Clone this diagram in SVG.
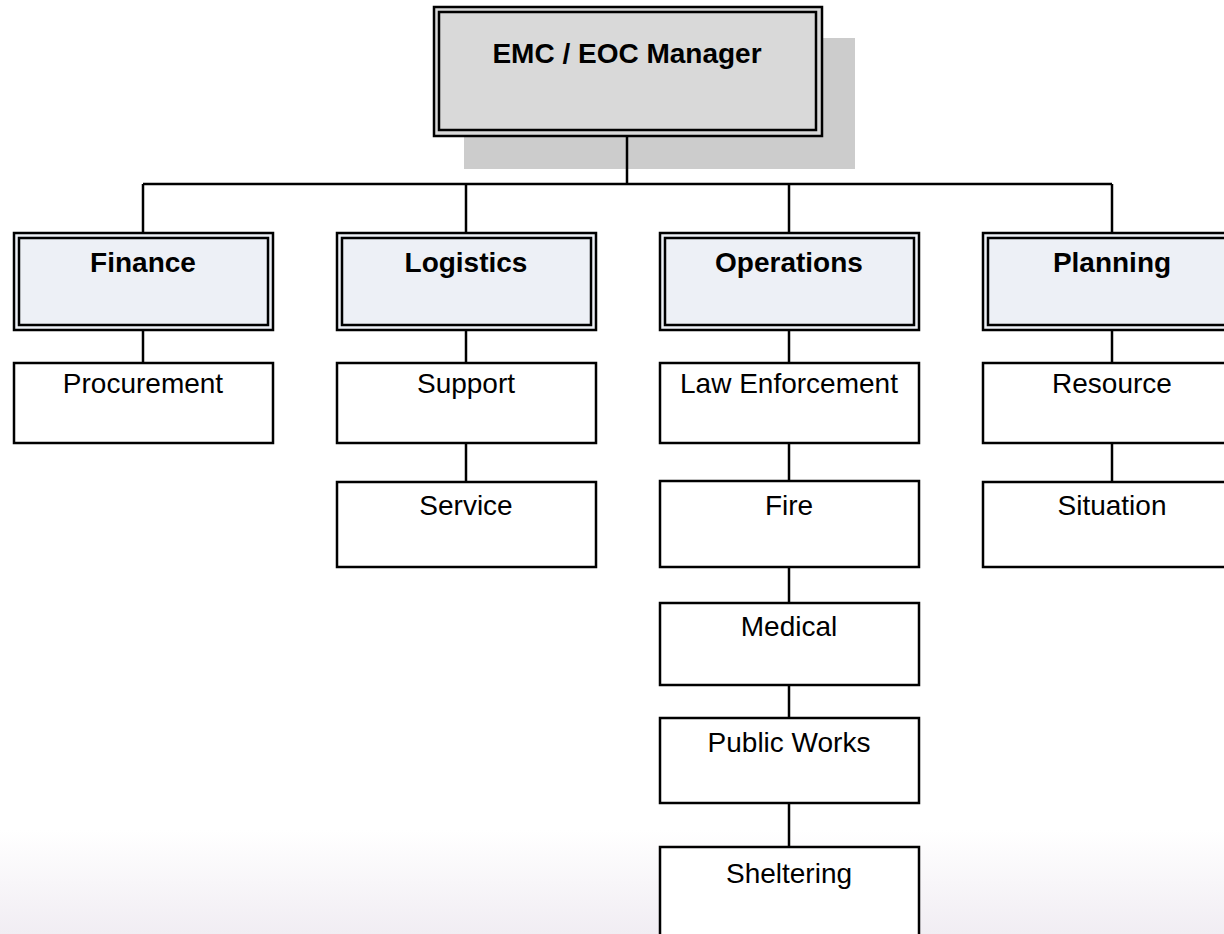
<svg xmlns="http://www.w3.org/2000/svg" width="1224" height="934" viewBox="0 0 1224 934">
<style>
.t{font-family:"Liberation Sans",Arial,sans-serif;font-size:28px;fill:#000;text-anchor:middle}
.b{font-weight:bold}
.box{fill:#fff;stroke:#000;stroke-width:2.5}
.hd{fill:#edf0f6;stroke:#000;stroke-width:2.5}
.hdi{fill:none;stroke:#000;stroke-width:2.5}
.con line{stroke:#000;stroke-width:2.5}
</style>
<defs>
<linearGradient id="bg" x1="0" y1="0" x2="0" y2="1">
<stop offset="0" stop-color="#ffffff"/>
<stop offset="1" stop-color="#f1edf3"/>
</linearGradient>
</defs>
<rect x="0" y="0" width="1224" height="934" fill="#fff"/>
<rect x="0" y="830" width="1224" height="104" fill="url(#bg)"/>
<rect x="464" y="38" width="391" height="131" fill="#cccccc"/>
<g class="con">
<line x1="627" y1="136" x2="627" y2="184"/>
<line x1="143" y1="184" x2="1112" y2="184"/>
<line x1="143" y1="184" x2="143" y2="232"/>
<line x1="466" y1="184" x2="466" y2="232"/>
<line x1="789" y1="184" x2="789" y2="232"/>
<line x1="1112" y1="184" x2="1112" y2="232"/>
<line x1="143" y1="330" x2="143" y2="362"/>
<line x1="466" y1="330" x2="466" y2="362"/>
<line x1="466" y1="443" x2="466" y2="481"/>
<line x1="789" y1="330" x2="789" y2="362"/>
<line x1="789" y1="443" x2="789" y2="481"/>
<line x1="789" y1="567" x2="789" y2="603"/>
<line x1="789" y1="685" x2="789" y2="717"/>
<line x1="789" y1="803" x2="789" y2="846"/>
<line x1="1112" y1="330" x2="1112" y2="362"/>
<line x1="1112" y1="443" x2="1112" y2="481"/>
</g>
<g id="manager">
<rect x="434" y="7" width="388" height="129" fill="#d9d9d9" stroke="#000" stroke-width="2.5"/>
<rect x="439" y="12" width="377" height="118" fill="none" stroke="#000" stroke-width="2.5"/>
<text class="t b" x="627" y="63">EMC / EOC Manager</text>
</g>
<g id="finance">
<rect class="hd" x="14" y="233" width="259" height="97"/>
<rect class="hdi" x="19" y="238" width="249" height="87"/>
<text class="t b" x="143" y="272">Finance</text>
</g>
<g id="logistics">
<rect class="hd" x="337" y="233" width="259" height="97"/>
<rect class="hdi" x="342" y="238" width="249" height="87"/>
<text class="t b" x="466" y="272">Logistics</text>
</g>
<g id="operations">
<rect class="hd" x="660" y="233" width="259" height="97"/>
<rect class="hdi" x="665" y="238" width="249" height="87"/>
<text class="t b" x="789" y="272">Operations</text>
</g>
<g id="planning">
<rect class="hd" x="983" y="233" width="259" height="97"/>
<rect class="hdi" x="988" y="238" width="249" height="87"/>
<text class="t b" x="1112" y="272">Planning</text>
</g>
<g id="procurement">
<rect class="box" x="14" y="363" width="259" height="80"/>
<text class="t" x="143" y="393">Procurement</text>
</g>
<g id="support">
<rect class="box" x="337" y="363" width="259" height="80"/>
<text class="t" x="466" y="393">Support</text>
</g>
<g id="service">
<rect class="box" x="337" y="482" width="259" height="85"/>
<text class="t" x="466" y="515">Service</text>
</g>
<g id="law">
<rect class="box" x="660" y="363" width="259" height="80"/>
<text class="t" x="789" y="393">Law Enforcement</text>
</g>
<g id="fire">
<rect class="box" x="660" y="481" width="259" height="86"/>
<text class="t" x="789" y="515">Fire</text>
</g>
<g id="medical">
<rect class="box" x="660" y="603" width="259" height="82"/>
<text class="t" x="789" y="636">Medical</text>
</g>
<g id="publicworks">
<rect class="box" x="660" y="718" width="259" height="85"/>
<text class="t" x="789" y="752">Public Works</text>
</g>
<g id="sheltering">
<rect class="box" x="660" y="847" width="259" height="100"/>
<text class="t" x="789" y="883">Sheltering</text>
</g>
<g id="resource">
<rect class="box" x="983" y="363" width="259" height="80"/>
<text class="t" x="1112" y="393">Resource</text>
</g>
<g id="situation">
<rect class="box" x="983" y="482" width="259" height="85"/>
<text class="t" x="1112" y="515">Situation</text>
</g>
</svg>
